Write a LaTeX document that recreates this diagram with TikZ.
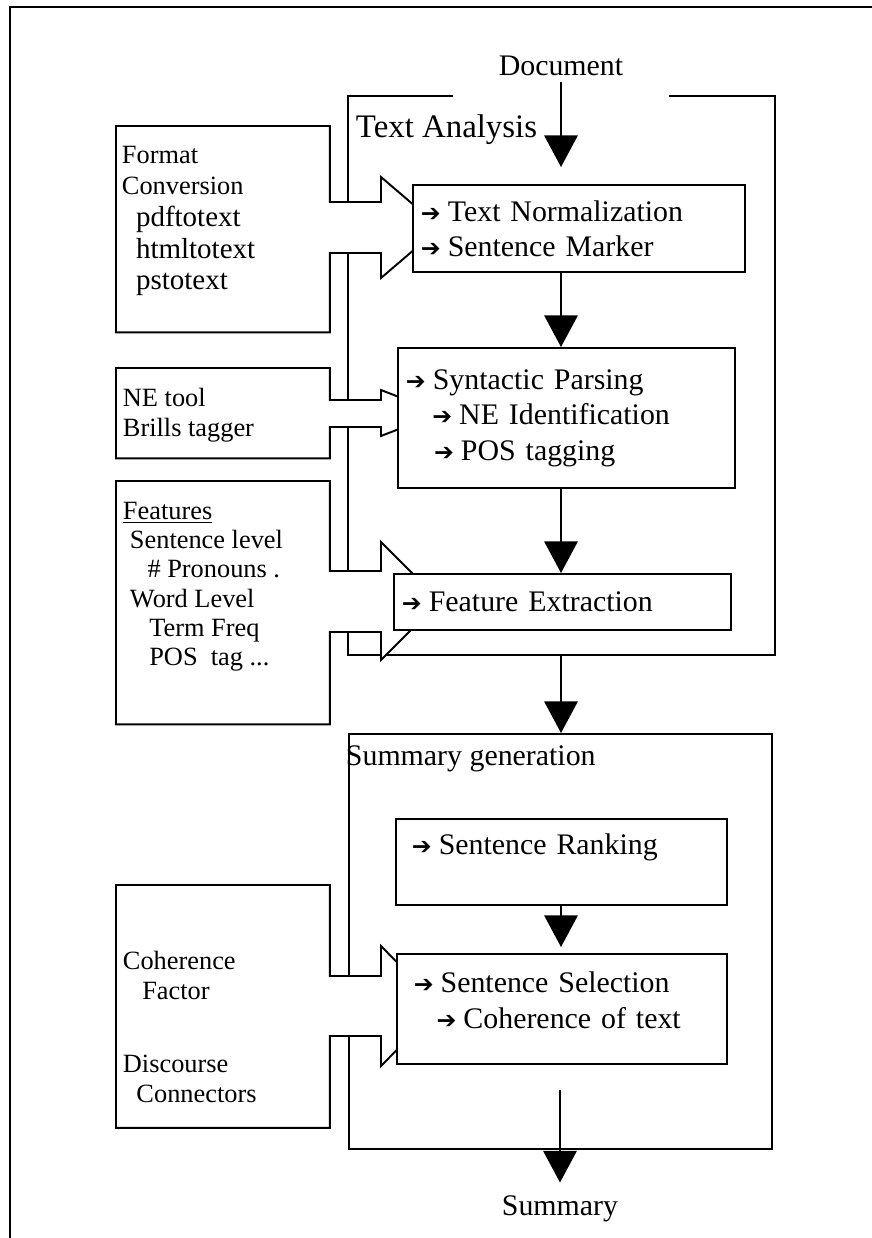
\documentclass[tikz,border=0pt]{standalone}
\usepackage{fontspec}
\setmainfont{Liberation Serif}
\newfontfamily\symfont{DejaVu Sans}
\usetikzlibrary{arrows.meta, calc}

\newcommand{\arr}{{\symfont\fontsize{13.5}{13.5}\selectfont ➔}\hspace{4pt}}
% input box merged with its block arrow: frame, shaft top, shaft bottom, head top, head bottom
\newcommand{\feed}[5]{%
  \draw[fill=white] (#1.north west) -- (#1.north east) -- (#1.east |- 0,#2)
    -- (381,#2) -- (381,#4) -- (440,{(#4+#5)/2}) -- (381,#5) -- (381,#3)
    -- (#1.east |- 0,#3) -- (#1.south east) -- (#1.south west) -- cycle;}

\begin{document}
\begin{tikzpicture}[x=0.02cm, y=-0.02cm, line width=1.1pt,
    box/.style={draw, fill=white, anchor=north west, align=left, inner xsep=0.16cm, inner ysep=0pt, font=\fontsize{17}{20}\selectfont},
    srcframe/.style={anchor=north west, inner sep=0pt, minimum width=4.24cm},
    side/.style={anchor=north west, inner sep=0pt, align=left},
    title/.style={inner sep=3pt, font=\fontsize{17}{20}\selectfont},
    flow/.style={-{Triangle[length=18pt, width=19pt]}, line width=1.1pt}
]
\useasboundingbox (0,0) rectangle (872,1238);

% page frame
\draw[line width=1.7pt] (10,1238) -- (10,7) -- (872,7);

% stages
\node[anchor=north west, inner sep=0pt, minimum width=8.5cm, minimum height=11.14cm] (ta) at (348,96) {};
\draw ($(ta.north west)+(105,0)$) -- (ta.north west) -- (ta.south west) -- (ta.south east) -- (ta.north east) -- ($(ta.north east)+(-106,0)$);
\node[draw, anchor=north west, inner sep=0pt, minimum width=8.46cm, minimum height=8.3cm] (sg) at (348,733) {};

% inputs
\node[srcframe, minimum height=4.09cm] (fmt) at (116,126) {};
\node[srcframe, minimum height=1.77cm] (ne) at (116,368) {};
\node[srcframe, minimum height=4.83cm] (feat) at (116,481) {};
\node[srcframe, minimum height=4.82cm] (coh) at (116,885) {};
\feed{fmt}{202}{253}{177}{278}
\feed{ne}{400}{427}{390}{436}
\feed{feat}{571}{632}{542}{660}
\feed{coh}{976}{1036}{946}{1066}

% steps
\node[box, text width=6.32cm, minimum height=1.75cm] (tn) at (412,184) {\arr Text Normalization\\ \arr Sentence Marker};
\node[box, text width=6.43cm, minimum height=2.81cm] (sp) at (397,347) {\arr Syntactic Parsing\\ \hspace*{15pt}\arr NE Identification\\ \hspace*{16pt}\arr POS tagging};
\node[box, text width=6.42cm, minimum height=1.12cm] (fe) at (393,573) {\arr Feature Extraction};
\node[box, text width=6.30cm, minimum height=1.72cm] (sr) at (395,818) {\hspace*{4.5pt}\arr Sentence Ranking\\ \mbox{}};
\node[box, text width=6.28cm, minimum height=2.2cm] (ss) at (396,953) {\hspace*{5pt}\arr Sentence Selection\\ \hspace*{18pt}\arr Coherence of text\\[-10pt]\mbox{}};

% labels
\node[title, anchor=base] (doc) at (561,75) {Document};
\node[title, anchor=base] (sum) at (560,1215) {Summary};
\node[inner sep=0pt, anchor=base west, font=\fontsize{18.7}{22}\selectfont] (talabel) at (355,137) {Text Analysis};
\node[title, inner sep=0pt, anchor=base west] (sglabel) at (345,765) {Summary generation};

\node[side, font=\fontsize{15}{18}\selectfont] (fmttext) at (121,145) {Format\\Conversion\\
  \hspace*{8pt}{\fontsize{16.5}{18}\selectfont pdftotext}\\
  \hspace*{8pt}{\fontsize{16.5}{18}\selectfont htmltotext}\\
  \hspace*{8pt}{\fontsize{16.5}{18}\selectfont pstotext}};
\node[side, font=\fontsize{15}{17}\selectfont] (netext) at (122,387) {NE tool\\Brills tagger};
\node[side, font=\fontsize{15}{16.7}\selectfont] (feattext) at (122,501) {\underline{Features}\\
  \hspace*{4pt}Sentence level\\ \hspace*{14pt}\# Pronouns .\\ \hspace*{4pt}Word Level\\
  \hspace*{15pt}Term Freq\\ \hspace*{15pt}POS\ \ tag ...};
\node[side, font=\fontsize{15}{17}\selectfont] (cohtext) at (122,950) {Coherence\\ \hspace*{11pt}Factor\\[24.6pt]Discourse\\ \hspace*{7.7pt}Connectors};

% flow
\draw[flow, shorten >=0.34cm] (doc) -- (doc |- tn.north);
\draw[flow] (tn.south -| doc) -- (sp.north -| doc);
\draw[flow] (sp.south -| doc) -- (fe.north -| doc);
\draw[flow] (ta.south -| doc) -- (sg.north -| doc);
\draw[flow, shorten >=0.12cm] (sr.south -| doc) -- (ss.north -| doc);
\draw[flow, shorten <=0.5cm, shorten >=0.13cm] (ss.south -| sum) -- (sum);

\end{tikzpicture}
\end{document}
